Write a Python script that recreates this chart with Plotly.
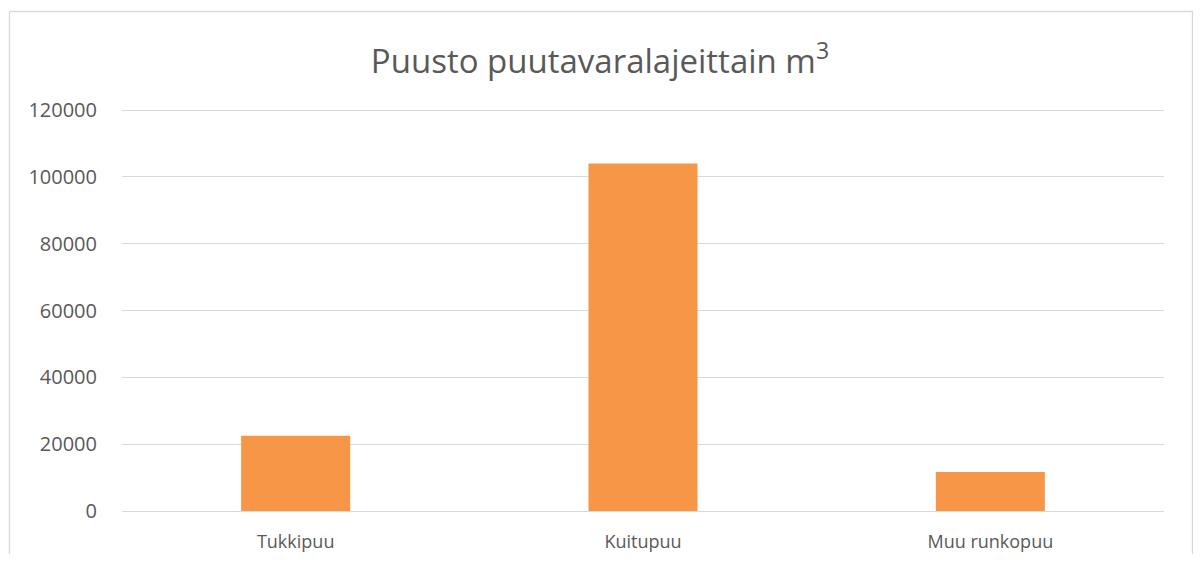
import plotly.graph_objects as go

categories = ["Tukkipuu", "Kuitupuu", "Muu runkopuu"]
values = [22500, 104000, 11700]
y_ticks = [0, 20000, 40000, 60000, 80000, 100000, 120000]
y_max = 121500

# page body has an 8px margin; work in figure-local pixels
O = 8
W, H = 1203 - 2 * O, 562 - 2 * O
scale = (511 - 110) / 120000.0
L, R, B = 122 - O, 1164 - O, 511 - O
T = (511 - y_max * scale) - O

fig = go.Figure(go.Bar(x=categories, y=values, marker=dict(color="#F79646", line=dict(width=0)),
                       width=0.314))

pw, ph = R - L, B - T
def px(x):
    return (x - O - L) / pw
def py(y):
    return (B - (y - O)) / ph

fig.update_layout(
    width=W, height=H,
    margin=dict(l=L, r=W - R, t=T, b=H - B, autoexpand=False),
    paper_bgcolor="white", plot_bgcolor="white",
    font=dict(family="Open Sans", color="#595959", size=18),
    title=dict(text="Puusto puutavaralajeittain m<sup>3</sup>", x=(600 - O) / W, xanchor="center",
               y=1 - (61 - O) / H, yanchor="middle", font=dict(size=33, color="#595959")),
    showlegend=False,
    xaxis=dict(showgrid=False, showline=False, zeroline=False, ticks="outside", ticklen=14,
               tickcolor="rgba(0,0,0,0)", tickfont=dict(size=18)),
    yaxis=dict(range=[0, y_max], tickvals=y_ticks, ticktext=[str(v) for v in y_ticks],
               showgrid=True, gridcolor="#D9D9D9", gridwidth=1.3,
               zeroline=True, zerolinecolor="#D9D9D9", zerolinewidth=1.3,
               showline=False, ticks="outside", ticklen=20, tickcolor="rgba(0,0,0,0)",
               tickfont=dict(size=20)),
    shapes=[dict(type="rect", xref="paper", yref="paper",
                 x0=px(9.5), x1=px(1192.5), y0=py(570), y1=py(11.5),
                 line=dict(color="#D9D9D9", width=1.3), fillcolor="rgba(0,0,0,0)", layer="below")],
)

fig.write_html("out.html")
